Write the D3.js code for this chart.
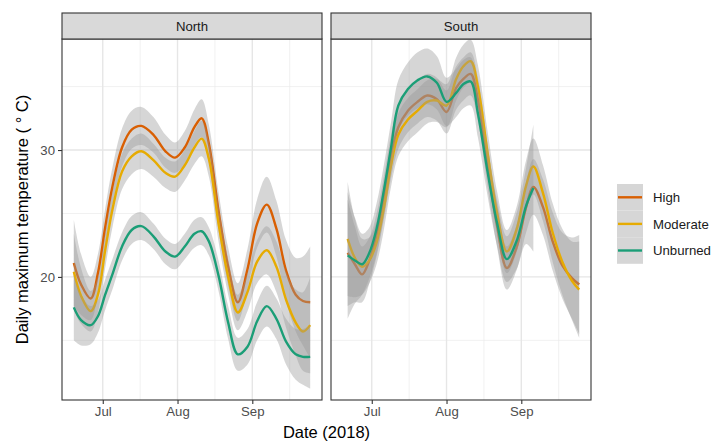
<!DOCTYPE html>
<html>
<head>
<meta charset="utf-8">
<script src="https://cdn.jsdelivr.net/npm/d3@7"></script>
<style>
  body { margin: 0; background: #fff; }
  text { font-family: "Liberation Sans", Arial, sans-serif; }
</style>
</head>
<body>
<div id="chart"></div>
<script>
// smoothed daily max temperature
const northDates = ["2018-06-19", "2018-06-22", "2018-06-26", "2018-06-29", "2018-07-02", "2018-07-05",
  "2018-07-09", "2018-07-13", "2018-07-17", "2018-07-22", "2018-07-27", "2018-07-31", "2018-08-04",
  "2018-08-08", "2018-08-11", "2018-08-14", "2018-08-18", "2018-08-22", "2018-08-26", "2018-08-30",
  "2018-09-03", "2018-09-07", "2018-09-11", "2018-09-15", "2018-09-19", "2018-09-22", "2018-09-25"];

const northHigh = [21.1, 19.4, 18.3, 20.3, 23.9, 27.1, 30.2, 31.6, 31.9, 31.2, 29.9, 29.4, 30.2, 31.8,
  32.5, 30.5, 25.2, 20.8, 18.0, 20.6, 24.2, 25.7, 23.8, 20.5, 18.6, 18.1, 18.0];
const northHighSe = [3.4, 2.4, 1.7, 1.5, 1.5, 1.5, 1.5, 1.5, 1.5, 1.4, 1.3, 1.2, 1.3, 1.4,
  1.5, 1.5, 1.5, 1.5, 1.5, 1.6, 1.9, 2.2, 2.2, 2.4, 2.9, 3.5, 4.4];

const northModerate = [20.4, 18.5, 17.3, 18.6, 22.1, 25.3, 28.3, 29.5, 29.9, 29.2, 28.2, 27.9, 28.8, 30.2,
  30.9, 29.3, 24.2, 20.0, 17.2, 18.8, 21.2, 22.1, 20.8, 18.2, 16.4, 15.7, 16.2];
const northModerateSe = [3.0, 2.2, 1.6, 1.4, 1.4, 1.4, 1.4, 1.4, 1.4, 1.3, 1.2, 1.2, 1.2, 1.3,
  1.4, 1.4, 1.4, 1.4, 1.4, 1.5, 1.7, 1.9, 2.0, 2.2, 2.6, 3.1, 3.8];

const northUnburned = [17.6, 16.6, 16.2, 16.9, 18.6, 20.2, 22.4, 23.7, 24.0, 23.2, 22.0, 21.6, 22.4, 23.4,
  23.6, 22.8, 20.1, 16.4, 13.9, 14.5, 16.5, 17.7, 16.7, 14.9, 13.9, 13.7, 13.7];
const northUnburnedSe = [2.6, 2.0, 1.5, 1.3, 1.2, 1.2, 1.1, 1.1, 1.1, 1.0, 1.0, 1.0, 1.0, 1.1,
  1.1, 1.1, 1.2, 1.3, 1.3, 1.4, 1.5, 1.6, 1.6, 1.8, 2.0, 2.2, 2.5];

const southDates = ["2018-06-21", "2018-06-24", "2018-06-27", "2018-06-30", "2018-07-03", "2018-07-06",
  "2018-07-09", "2018-07-12", "2018-07-16", "2018-07-20", "2018-07-24", "2018-07-28", "2018-08-01",
  "2018-08-05", "2018-08-08", "2018-08-11", "2018-08-14", "2018-08-18", "2018-08-22", "2018-08-26",
  "2018-08-30", "2018-09-03", "2018-09-06", "2018-09-10", "2018-09-14", "2018-09-18", "2018-09-22",
  "2018-09-25"];

const southHigh = [21.9, 21.0, 20.2, 21.3, 23.3, 26.2, 29.5, 31.8, 33.1, 33.8, 34.3, 34.0, 33.0, 34.9,
  35.6, 36.0, 34.0, 28.8, 24.0, 20.7, 22.3, 25.5, 27.1, 25.5, 22.8, 20.9, 19.9, 19.4];
const southHighSe = [4.2, 3.0, 2.2, 1.8, 1.7, 1.7, 1.7, 1.7, 1.7, 1.7, 1.7, 1.7, 1.7, 1.7,
  1.7, 1.7, 1.7, 1.7, 1.7, 1.7, 1.8, 2.0, 2.2, 2.2, 2.3, 2.6, 3.2, 3.9];

const southModerate = [23.0, 21.5, 20.8, 21.3, 22.7, 25.4, 28.8, 31.2, 32.4, 33.1, 33.8, 33.9, 33.5, 35.6,
  36.6, 37.0, 35.0, 29.8, 25.0, 22.0, 23.7, 27.2, 28.7, 26.6, 23.5, 21.2, 19.7, 19.0];
const southModerateSe = [4.5, 3.1, 2.2, 1.8, 1.7, 1.7, 1.7, 1.7, 1.7, 1.7, 1.7, 1.7, 1.7, 1.7,
  1.7, 1.7, 1.7, 1.7, 1.7, 1.7, 1.8, 2.0, 2.2, 2.2, 2.3, 2.6, 3.1, 3.8];

// unburned south sites stop after early September
const southUnburned = [21.7, 21.3, 21.0, 21.9, 23.8, 26.8, 30.2, 33.5, 34.8, 35.5, 35.8, 35.3, 33.8, 34.5,
  35.2, 35.4, 32.9, 28.3, 24.2, 21.4, 22.8, 25.6, 27.0];
const southUnburnedSe = [5.0, 3.4, 2.4, 2.0, 2.0, 2.0, 2.0, 2.0, 2.1, 2.2, 2.2, 2.1, 1.9, 1.9,
  1.9, 1.9, 1.9, 1.9, 1.8, 1.8, 2.2, 3.0, 5.0];

const severities = ["High", "Moderate", "Unburned"];
const colors = ["#D95F02", "#E6AB02", "#1B9E77"];
const yMajor = [20, 30];
const yMinor = [15, 25, 35];

const svgWidth = 727;
const svgHeight = 441;
const panelW = 260;
const panelTop = 39;
const panelBottom = 400;
const stripTop = 13;
const panelLefts = [62, 331];

const parseDate = d3.timeParse("%Y-%m-%d");

const panels = [
  { name: "North", dates: northDates, series: [
    { values: northHigh, se: northHighSe },
    { values: northModerate, se: northModerateSe },
    { values: northUnburned, se: northUnburnedSe }] },
  { name: "South", dates: southDates, series: [
    { values: southHigh, se: southHighSe },
    { values: southModerate, se: southModerateSe },
    { values: southUnburned, se: southUnburnedSe }] }
];

const svg = d3.select("#chart")
  .append("svg")
  .attr("width", svgWidth)
  .attr("height", svgHeight);

// shared scales, x padded by 5% like ggplot
const allDates = northDates.concat(southDates).map(parseDate);
const ext = d3.extent(allDates);
const pad = (ext[1] - ext[0]) * 0.05;
const x = d3.scaleTime()
  .domain([new Date(+ext[0] - pad), new Date(+ext[1] + pad)])
  .range([0, panelW]);

const y = d3.scaleLinear()
  .domain([10.3, 38.75])
  .range([panelBottom, panelTop]);

const xMajor = [parseDate("2018-07-01"), parseDate("2018-08-01"), parseDate("2018-09-01")];
const xMinor = [new Date((+xMajor[0] + +xMajor[1]) / 2), new Date((+xMajor[1] + +xMajor[2]) / 2),
  new Date(+xMajor[2] + (+xMajor[2] - +xMajor[1]) / 2)];

const area = d3.area()
  .x(d => x(d.date))
  .y0(d => y(d.value - d.se))
  .y1(d => y(d.value + d.se))
  .curve(d3.curveCatmullRom.alpha(0.5));

const line = d3.line()
  .x(d => x(d.date))
  .y(d => y(d.value))
  .curve(d3.curveCatmullRom.alpha(0.5));

panels.forEach((p, i) => {
  const g = svg.append("g").attr("transform", `translate(${panelLefts[i]},0)`);

  g.append("clipPath").attr("id", "clip" + i)
    .append("rect")
    .attr("x", 0).attr("y", panelTop)
    .attr("width", panelW).attr("height", panelBottom - panelTop);

  // grid
  g.selectAll(".ymin").data(yMinor).enter().append("line")
    .attr("x1", 0).attr("x2", panelW)
    .attr("y1", d => y(d)).attr("y2", d => y(d))
    .attr("stroke", "#ebebeb").attr("stroke-width", 0.7);
  g.selectAll(".xmin").data(xMinor).enter().append("line")
    .attr("x1", d => x(d)).attr("x2", d => x(d))
    .attr("y1", panelTop).attr("y2", panelBottom)
    .attr("stroke", "#ebebeb").attr("stroke-width", 0.7);
  g.selectAll(".ymaj").data(yMajor).enter().append("line")
    .attr("x1", 0).attr("x2", panelW)
    .attr("y1", d => y(d)).attr("y2", d => y(d))
    .attr("stroke", "#e6e6e6").attr("stroke-width", 1.4);
  g.selectAll(".xmaj").data(xMajor).enter().append("line")
    .attr("x1", d => x(d)).attr("x2", d => x(d))
    .attr("y1", panelTop).attr("y2", panelBottom)
    .attr("stroke", "#e6e6e6").attr("stroke-width", 1.4);

  const plot = g.append("g").attr("clip-path", `url(#clip${i})`);

  // ribbon then line per group, like geom_smooth
  p.series.forEach((s, j) => {
    const pts = s.values.map((v, k) => ({ date: parseDate(p.dates[k]), value: v, se: s.se[k] }));
    plot.append("path")
      .attr("d", area(pts))
      .attr("fill", "#999999")
      .attr("fill-opacity", 0.4);
    plot.append("path")
      .attr("d", line(pts))
      .attr("fill", "none")
      .attr("stroke", colors[j])
      .attr("stroke-width", 2.4);
  });

  // panel border
  g.append("rect")
    .attr("x", 0).attr("y", panelTop)
    .attr("width", panelW).attr("height", panelBottom - panelTop)
    .attr("fill", "none").attr("stroke", "#333").attr("stroke-width", 1.1);

  // strip
  g.append("rect")
    .attr("x", 0).attr("y", stripTop)
    .attr("width", panelW).attr("height", panelTop - stripTop)
    .attr("fill", "#d9d9d9").attr("stroke", "#333").attr("stroke-width", 1.1);
  g.append("text")
    .attr("x", panelW / 2).attr("y", 30.5)
    .attr("text-anchor", "middle")
    .attr("font-size", 13.2)
    .attr("fill", "#1a1a1a")
    .text(p.name);

  // x axis
  const xAxis = g.append("g")
    .attr("transform", `translate(0,${panelBottom})`)
    .call(d3.axisBottom(x).tickValues(xMajor).tickFormat(d3.timeFormat("%b")).tickSizeOuter(0).tickSize(4).tickPadding(3));
  xAxis.select(".domain").remove();
  xAxis.selectAll("line").attr("stroke", "#333").attr("stroke-width", 1.1);
  xAxis.selectAll("text").attr("font-size", 13.2).attr("fill", "#4d4d4d")
    .attr("font-family", "Liberation Sans, Arial, sans-serif");

  if (i === 0) {
    const yAxis = g.append("g")
      .call(d3.axisLeft(y).tickValues(yMajor).tickSizeOuter(0).tickSize(4).tickPadding(3));
    yAxis.select(".domain").remove();
    yAxis.selectAll("line").attr("stroke", "#333").attr("stroke-width", 1.1);
    yAxis.selectAll("text").attr("font-size", 13.2).attr("fill", "#4d4d4d")
      .attr("font-family", "Liberation Sans, Arial, sans-serif");
  }
});

// axis titles
svg.append("text")
  .attr("x", (panelLefts[0] + panelLefts[1] + panelW) / 2)
  .attr("y", 438)
  .attr("text-anchor", "middle")
  .attr("font-size", 16.5)
  .attr("fill", "#000")
  .text("Date (2018)");

svg.append("text")
  .attr("transform", `translate(28,${(panelTop + panelBottom) / 2}) rotate(-90)`)
  .attr("text-anchor", "middle")
  .attr("font-size", 16.5)
  .attr("fill", "#000")
  .text("Daily maximum temperature ( ° C)");

// legend
const legend = svg.append("g").attr("transform", "translate(617,184)");
const keyH = 26.6;
severities.forEach((s, j) => {
  legend.append("rect")
    .attr("x", 0).attr("y", j * keyH)
    .attr("width", 26).attr("height", keyH)
    .attr("fill", "#d6d6d6");
  legend.append("line")
    .attr("x1", 1).attr("x2", 25)
    .attr("y1", j * keyH + keyH / 2).attr("y2", j * keyH + keyH / 2)
    .attr("stroke", colors[j]).attr("stroke-width", 2.4);
  legend.append("text")
    .attr("x", 36).attr("y", j * keyH + keyH / 2 + 4.7)
    .attr("font-size", 13.2)
    .attr("fill", "#1a1a1a")
    .text(s);
});
</script>
</body>
</html>
